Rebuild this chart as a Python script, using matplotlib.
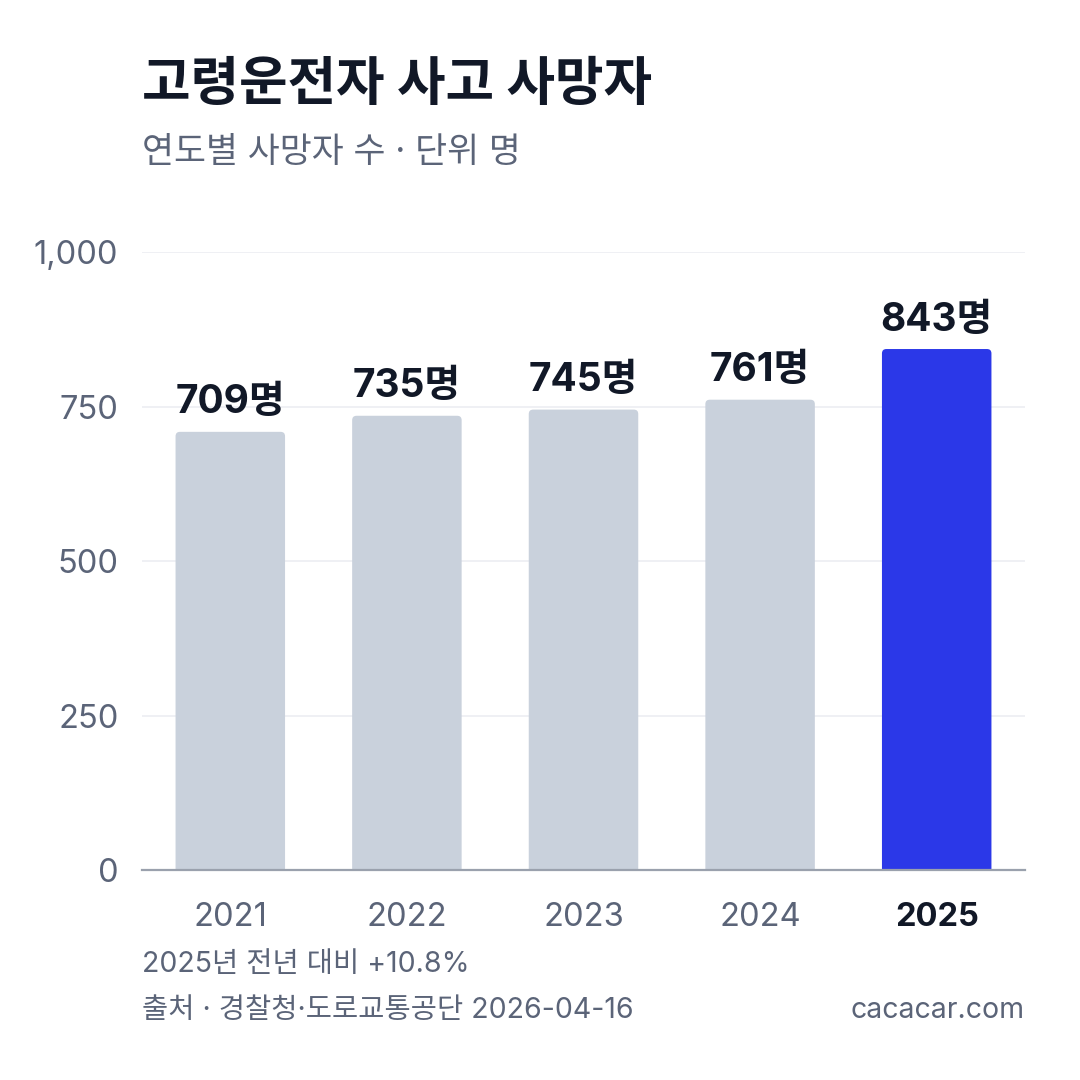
import matplotlib
matplotlib.use("Agg")
import matplotlib.pyplot as plt
from matplotlib.patches import FancyBboxPatch

plt.rcParams['font.family'] = ['Inter', 'Noto Sans CJK KR', 'DejaVu Sans']

# 데이터
years = ['2021', '2022', '2023', '2024', '2025']
deaths = [709, 735, 745, 761, 843]
yticks = [0, 250, 500, 750, 1000]
ytick_labels = ['0', '250', '500', '750', '1,000']

title = '고령운전자 사고 사망자'
subtitle = '연도별 사망자 수 · 단위 명'
note = '2025년 전년 대비 +10.8%'
source = '출처 · 경찰청·도로교통공단 2026-04-16'
site = 'cacacar.com'

gray = '#C9D1DC'
blue = '#2B38E8'
dark = '#111827'
muted = '#5B6478'

fig = plt.figure(figsize=(10.8, 10.8), dpi=100)
ax = fig.add_axes([142 / 1080, 1 - 870 / 1080, 883 / 1080, (870 - 252) / 1080])

colors = [gray] * (len(years) - 1) + [blue]
bars = ax.bar(range(len(years)), deaths, width=0.62, color=colors, zorder=2)

# 막대 위쪽 모서리 둥글게 (아래쪽은 축 밖으로 빼서 잘리게)
aspect = (1000 / 618) * (883 / 5)
for b in bars:
    p = FancyBboxPatch((b.get_x(), -40), b.get_width(), b.get_height() + 40,
                       boxstyle='round,pad=0,rounding_size=0.025',
                       mutation_aspect=aspect, facecolor=b.get_facecolor(),
                       edgecolor='none', linewidth=0, zorder=2)
    ax.add_patch(p)
    b.remove()

for i, v in enumerate(deaths):
    ax.text(i, v + 17, f'{v}명', ha='center', va='bottom', fontsize=28,
            fontweight='bold', color=dark)

ax.set_xlim(-0.5, len(years) - 0.5)
ax.set_ylim(0, 1000)
ax.set_yticks(yticks)
ax.set_yticklabels(ytick_labels)
ax.set_xticks(range(len(years)))
ax.set_xticklabels(years)
ax.tick_params(axis='both', length=0, labelsize=23.5, labelcolor=muted)
ax.tick_params(axis='y', pad=17)
ax.tick_params(axis='x', pad=23)
for lbl in ax.get_xticklabels():
    if lbl.get_text() == years[-1]:
        lbl.set_color(dark)
        lbl.set_fontweight('bold')

ax.grid(axis='y', color='#ECEEF2', linewidth=1.2, zorder=0)
for s in ['top', 'right', 'left']:
    ax.spines[s].set_visible(False)
ax.spines['bottom'].set_color('#9AA1AD')
ax.spines['bottom'].set_linewidth(1.6)
ax.spines['bottom'].set_zorder(3)

fig.text(142 / 1080, 1 - 100 / 1080, title, fontsize=38, fontweight='bold',
         color=dark, ha='left', va='baseline')
fig.text(142 / 1080, 1 - 162 / 1080, subtitle, fontsize=25, color=muted,
         ha='left', va='baseline')
fig.text(142 / 1080, 1 - 972 / 1080, note, fontsize=20.5, color=muted,
         ha='left', va='baseline')
fig.text(142 / 1080, 1 - 1018 / 1080, source, fontsize=20.5, color=muted,
         ha='left', va='baseline')
fig.text(1025 / 1080, 1 - 1018 / 1080, site, fontsize=20.5, color=muted,
         ha='right', va='baseline')

fig.savefig('out.png', dpi=100, facecolor='white')
